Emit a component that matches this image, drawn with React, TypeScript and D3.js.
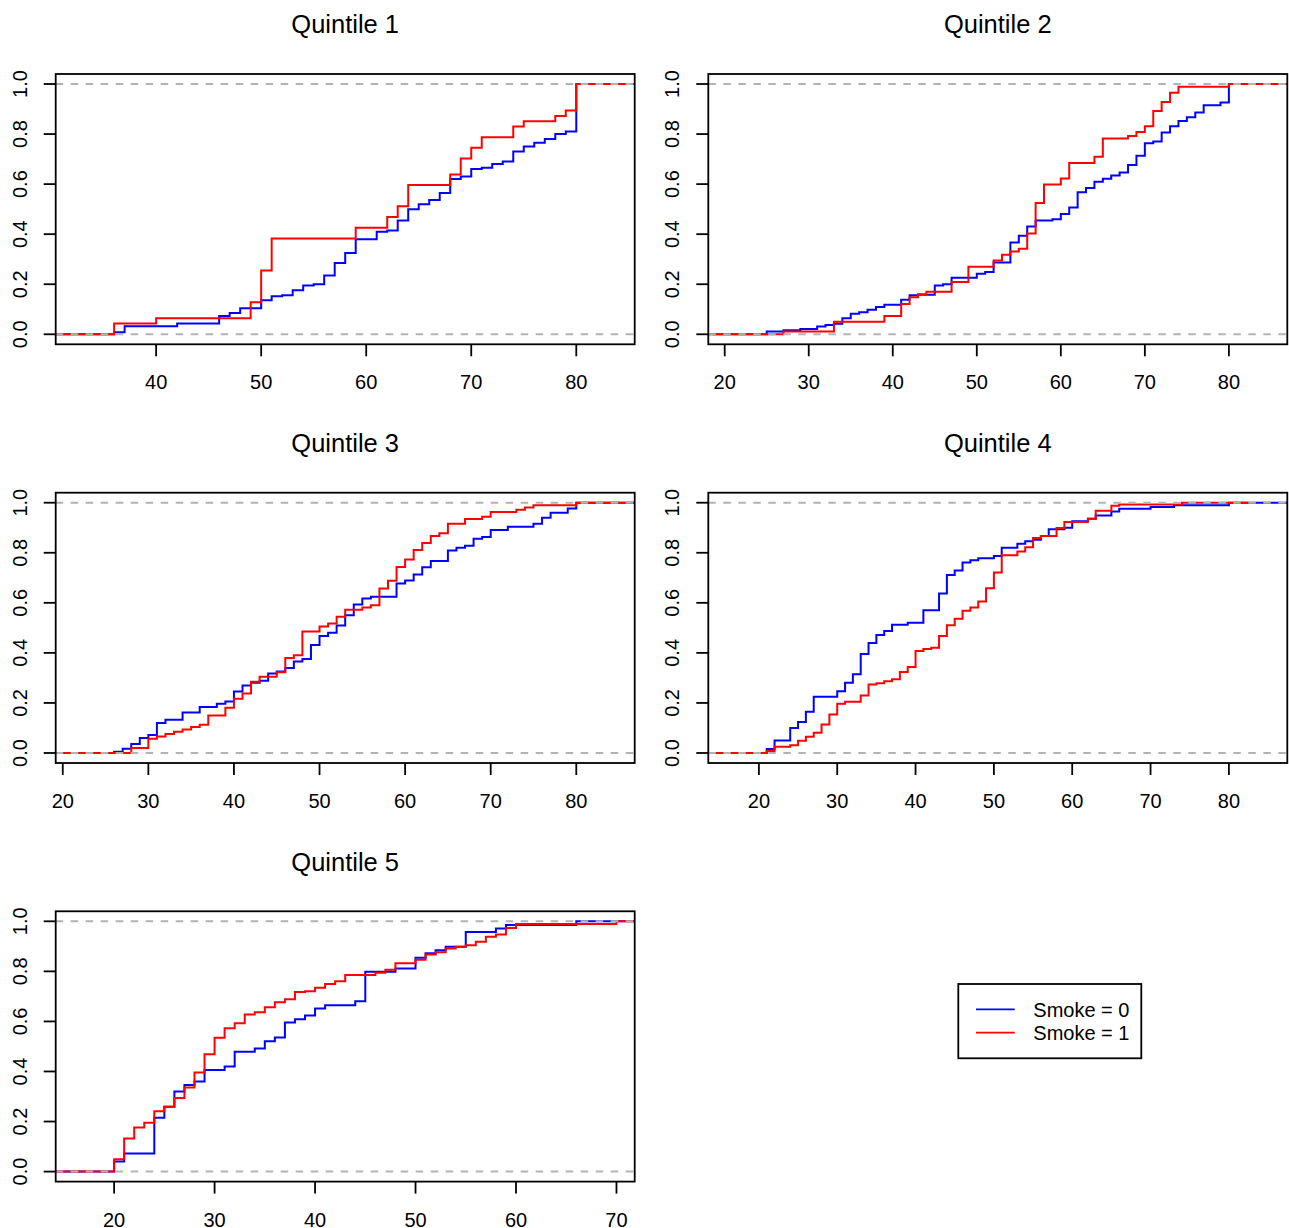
import * as d3 from "d3";

type Pt = [number, number];

// ECDF knots: [age, cumulative share]
const q1Smoke0: Pt[] = [[36,0.008],[37,0.032],[42,0.043],[46,0.073],[47,0.085],[48,0.104],[50,0.136],[51,0.152],[52,0.156],[53,0.176],[54,0.195],[55,0.2],[56,0.235],[57,0.285],[58,0.325],[59,0.38],[61,0.41],[62,0.415],[63,0.455],[64,0.5],[65,0.52],[66,0.537],[67,0.565],[68,0.62],[69,0.63],[70,0.66],[71,0.665],[72,0.68],[73,0.69],[74,0.73],[75,0.75],[76,0.765],[77,0.78],[78,0.8],[79,0.81],[80,1]];
const q1Smoke1: Pt[] = [[36,0.043],[40,0.064],[49,0.128],[50,0.255],[51,0.383],[59,0.426],[62,0.469],[63,0.512],[64,0.596],[68,0.638],[69,0.702],[70,0.745],[71,0.787],[74,0.83],[75,0.851],[78,0.872],[79,0.894],[80,1]];

const q2Smoke0: Pt[] = [[25,0.011],[27,0.016],[29,0.021],[31,0.031],[32,0.037],[33,0.042],[34,0.064],[35,0.082],[36,0.088],[37,0.098],[38,0.109],[39,0.118],[41,0.138],[42,0.156],[43,0.158],[45,0.195],[46,0.2],[47,0.226],[50,0.242],[51,0.249],[52,0.287],[54,0.367],[55,0.394],[56,0.431],[57,0.455],[59,0.46],[60,0.481],[61,0.507],[62,0.568],[63,0.585],[64,0.609],[65,0.621],[66,0.634],[67,0.646],[68,0.676],[69,0.713],[70,0.763],[71,0.77],[72,0.806],[73,0.831],[74,0.852],[75,0.867],[76,0.886],[77,0.915],[79,0.926],[80,1]];
const q2Smoke1: Pt[] = [[27,0.011],[33,0.05],[39,0.073],[41,0.121],[42,0.148],[43,0.16],[44,0.17],[47,0.209],[49,0.27],[52,0.295],[53,0.318],[54,0.331],[55,0.342],[56,0.403],[57,0.525],[58,0.598],[60,0.622],[61,0.684],[64,0.709],[65,0.782],[68,0.792],[69,0.808],[70,0.831],[71,0.892],[72,0.928],[73,0.965],[74,0.989],[80,1]];

const q3Smoke0: Pt[] = [[26,0.005],[27,0.017],[28,0.036],[29,0.06],[30,0.072],[31,0.12],[32,0.133],[34,0.162],[36,0.184],[38,0.197],[39,0.206],[40,0.246],[41,0.27],[42,0.281],[43,0.289],[44,0.318],[45,0.326],[46,0.34],[47,0.366],[48,0.376],[49,0.431],[50,0.467],[51,0.48],[52,0.509],[53,0.55],[54,0.593],[55,0.617],[56,0.624],[59,0.677],[60,0.689],[61,0.713],[62,0.742],[63,0.767],[65,0.809],[66,0.82],[67,0.828],[68,0.856],[69,0.863],[70,0.891],[72,0.904],[75,0.916],[76,0.94],[77,0.96],[79,0.977],[80,1]];
const q3Smoke1: Pt[] = [[28,0.02],[30,0.057],[31,0.066],[32,0.076],[33,0.085],[34,0.094],[35,0.104],[36,0.113],[37,0.15],[39,0.181],[40,0.217],[41,0.238],[42,0.285],[43,0.305],[45,0.323],[46,0.38],[47,0.391],[48,0.485],[50,0.505],[51,0.517],[52,0.544],[53,0.572],[55,0.581],[56,0.59],[57,0.657],[58,0.688],[59,0.743],[60,0.773],[61,0.811],[62,0.839],[63,0.867],[64,0.878],[65,0.916],[67,0.935],[69,0.944],[70,0.963],[73,0.972],[74,0.981],[75,0.99],[80,1]];

const q4Smoke0: Pt[] = [[21,0.016],[22,0.05],[24,0.1],[25,0.124],[26,0.165],[27,0.225],[30,0.247],[31,0.281],[32,0.315],[33,0.396],[34,0.439],[35,0.471],[36,0.487],[37,0.512],[39,0.52],[41,0.57],[43,0.637],[44,0.711],[45,0.729],[46,0.761],[47,0.77],[48,0.778],[50,0.787],[51,0.82],[53,0.836],[54,0.846],[55,0.852],[56,0.867],[57,0.894],[59,0.9],[60,0.926],[62,0.936],[63,0.949],[65,0.965],[66,0.976],[70,0.983],[73,0.99],[80,1]];
const q4Smoke1: Pt[] = [[21,0.008],[22,0.025],[24,0.031],[25,0.049],[26,0.065],[27,0.081],[28,0.114],[29,0.154],[30,0.197],[31,0.205],[33,0.23],[34,0.274],[35,0.279],[36,0.287],[37,0.295],[38,0.324],[39,0.344],[40,0.408],[41,0.415],[42,0.42],[43,0.467],[44,0.51],[45,0.536],[46,0.568],[47,0.581],[48,0.605],[49,0.658],[50,0.721],[51,0.79],[53,0.805],[54,0.822],[55,0.859],[56,0.867],[58,0.899],[59,0.923],[62,0.936],[63,0.968],[65,0.988],[66,0.993],[74,1]];

const q5Smoke0: Pt[] = [[20,0.04],[21,0.072],[24,0.215],[25,0.259],[26,0.32],[27,0.346],[28,0.36],[29,0.406],[31,0.42],[32,0.479],[34,0.492],[35,0.521],[36,0.536],[37,0.596],[38,0.609],[39,0.624],[40,0.652],[41,0.665],[44,0.681],[45,0.798],[48,0.811],[50,0.854],[51,0.872],[52,0.884],[53,0.898],[55,0.957],[58,0.971],[59,0.985],[66,1]];
const q5Smoke1: Pt[] = [[20,0.049],[21,0.132],[22,0.176],[23,0.195],[24,0.241],[25,0.259],[26,0.294],[27,0.336],[28,0.396],[29,0.469],[30,0.535],[31,0.573],[32,0.593],[33,0.628],[34,0.637],[35,0.657],[36,0.677],[37,0.689],[38,0.718],[39,0.721],[40,0.735],[41,0.75],[42,0.761],[43,0.785],[46,0.794],[47,0.806],[48,0.832],[50,0.846],[51,0.867],[52,0.876],[53,0.891],[54,0.898],[55,0.904],[56,0.918],[57,0.938],[58,0.947],[59,0.973],[60,0.989],[70,1]];

const TITLES = ["Quintile 1", "Quintile 2", "Quintile 3", "Quintile 4", "Quintile 5"];
const SMOKE0 = [q1Smoke0, q2Smoke0, q3Smoke0, q4Smoke0, q5Smoke0];
const SMOKE1 = [q1Smoke1, q2Smoke1, q3Smoke1, q4Smoke1, q5Smoke1];
const SERIES = [
  { label: "Smoke = 0", color: "#0000FF" },
  { label: "Smoke = 1", color: "#FF0000" },
];
const Y_TICKS = [0, 0.2, 0.4, 0.6, 0.8, 1];

const FONT = "'Liberation Sans', Arial, Helvetica, sans-serif";
const COL_X = [55.7, 708.3];
const ROW_Y = [74, 492.7, 911.3];
const PW = 579;
const PH = 270.3;

// same extent rule as R's plot.stepfun
function stepSpan(pts: Pt[]) {
  const xs = pts.map((d) => d[0]);
  const lo = d3.min(xs) as number;
  const hi = d3.max(xs) as number;
  const med = xs.length > 1 ? (d3.median(d3.pairs(xs, (a, b) => b - a)) as number) : 0;
  return { lo, hi, dr: Math.max(0.08 * (hi - lo), med) };
}

function Panel({ idx }: { idx: number }) {
  const left = COL_X[idx % 2];
  const top = ROW_Y[Math.floor(idx / 2)];
  const s0 = SMOKE0[idx];
  const s1 = SMOKE1[idx];

  const sp = stepSpan(s0);
  const a = sp.lo - sp.dr;
  const b = sp.hi + sp.dr;
  const pad = 0.04 * (b - a);
  const x = d3.scaleLinear().domain([a - pad, b + pad]).range([0, PW]);
  const y = d3.scaleLinear().domain([-0.04, 1.04]).range([PH, 0]);

  const [d0, d1] = x.domain();
  const xTicks = d3.range(Math.ceil(d0 / 10) * 10, d1 + 1e-9, 10);

  const line = d3
    .line<Pt>()
    .x((d) => x(d[0]))
    .y((d) => y(d[1]))
    .curve(d3.curveStepAfter);

  const stepPath = (pts: Pt[]) => {
    const s = stepSpan(pts);
    const full: Pt[] = [[s.lo - 2 * s.dr, 0], ...pts, [s.hi + 2 * s.dr, pts[pts.length - 1][1]]];
    return line(full) ?? "";
  };

  const clipId = `clip-${idx}`;

  return (
    <g transform={`translate(${left},${top})`}>
      <defs>
        <clipPath id={clipId}>
          <rect x={0} y={0} width={PW} height={PH} />
        </clipPath>
      </defs>
      <text x={PW / 2} y={-40.7} textAnchor="middle" fontSize={25.5} fill="#000">
        {TITLES[idx]}
      </text>
      <g clipPath={`url(#${clipId})`}>
        {[s0, s1].map((pts, i) => (
          <path key={i} d={stepPath(pts)} fill="none" stroke={SERIES[i].color} strokeWidth={2} />
        ))}
        {[0, 1].map((v) => (
          <line key={v} x1={0} x2={PW} y1={y(v)} y2={y(v)} stroke="#B3B3B3" strokeWidth={2} strokeDasharray="7.5,7.5" />
        ))}
      </g>
      <rect x={0} y={0} width={PW} height={PH} fill="none" stroke="#000" strokeWidth={1.8} />
      {xTicks.map((t) => (
        <g key={t} transform={`translate(${x(t)},${PH})`}>
          <line y1={0} y2={12} stroke="#000" strokeWidth={1.8} />
          <text y={45} textAnchor="middle" fontSize={20} fill="#000">{t}</text>
        </g>
      ))}
      {Y_TICKS.map((t) => (
        <g key={t} transform={`translate(0,${y(t)})`}>
          <line x1={0} x2={-12} stroke="#000" strokeWidth={1.8} />
          <text transform="translate(-29,0) rotate(-90)" textAnchor="middle" fontSize={20} fill="#000">
            {d3.format(".1f")(t)}
          </text>
        </g>
      ))}
    </g>
  );
}

function Legend() {
  const bx = 958.3;
  const by = 984;
  return (
    <g>
      <rect x={bx} y={by} width={183} height={74.3} fill="#fff" stroke="#000" strokeWidth={1.8} />
      {SERIES.map((s, i) => {
        const ly = by + 25.3 + i * 23.4;
        return (
          <g key={s.label}>
            <line x1={bx + 17.7} x2={bx + 56.4} y1={ly} y2={ly} stroke={s.color} strokeWidth={1.8} />
            <text x={bx + 75} y={ly + 7.2} fontSize={20} fill="#000">{s.label}</text>
          </g>
        );
      })}
    </g>
  );
}

export default function App() {
  return (
    <div style={{ position: "absolute", left: 0, top: 0 }}>
      <svg width={1289} height={1228} style={{ display: "block", background: "#fff", fontFamily: FONT }}>
        {TITLES.map((_, i) => (
          <Panel key={i} idx={i} />
        ))}
        <Legend />
      </svg>
    </div>
  );
}
